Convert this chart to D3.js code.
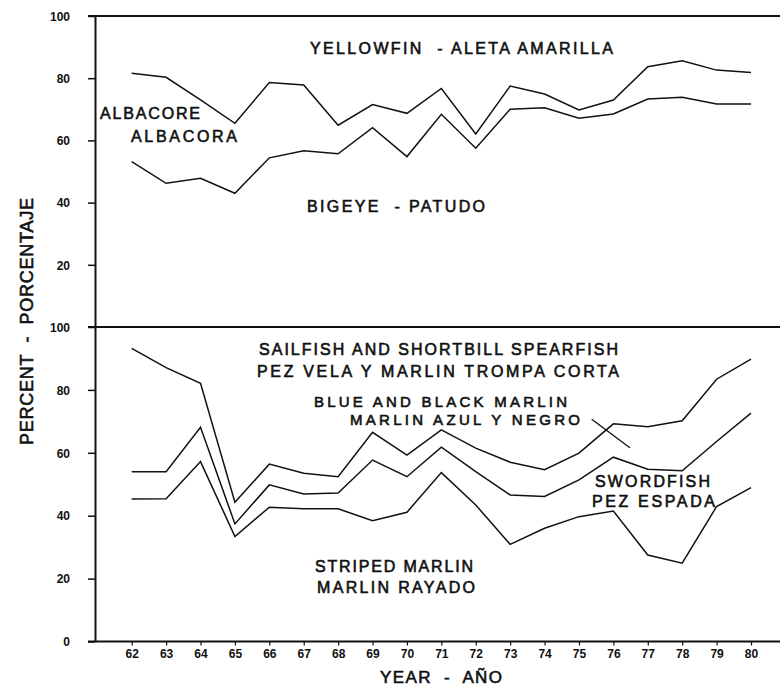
<!DOCTYPE html>
<html>
<head>
<meta charset="utf-8">
<script src="https://cdn.jsdelivr.net/npm/d3@7"></script>
<style>
  html, body { margin: 0; padding: 0; background: #fff; }
  svg { display: block; }
  text { font-family: "Liberation Sans", Arial, sans-serif; fill: #111; }
</style>
</head>
<body>
<svg id="chart" width="780" height="686"></svg>
<script>
// ---------------- DATA ----------------
const years = [62,63,64,65,66,67,68,69,70,71,72,73,74,75,76,77,78,79,80];

// Top panel (cumulative percent boundaries)
const yellowfinTop = [81.6,80.3,73.0,65.5,78.6,77.8,64.9,71.5,68.7,76.7,62.1,77.5,74.9,69.8,73.0,83.7,85.6,82.6,81.8];
const bigeyeTop    = [53.2,46.2,47.8,43.0,54.4,56.7,55.7,64.1,54.8,68.4,57.5,70.0,70.5,67.1,68.5,73.3,73.9,71.7,71.7];

// Bottom panel (cumulative percent boundaries)
const sailfishBound  = [93.2,87.1,82.1,44.3,56.4,53.5,52.4,66.5,59.3,67.3,61.5,57.0,54.6,59.9,69.2,68.3,70.2,83.4,89.8];
const blueMarlinBound= [54.0,54.0,68.1,37.4,49.8,46.9,47.2,57.7,52.4,61.8,54.0,46.6,46.1,51.4,58.6,54.8,54.3,63.6,72.6];
const swordfishBound = [45.3,45.4,57.2,33.4,42.7,42.2,42.2,38.4,41.1,53.7,43.4,30.9,36.0,39.7,41.5,27.5,24.9,42.9,48.9];

// Leader line for "MARLIN AZUL Y NEGRO" (year, percent)
const leaderYears  = [75.37, 76.48];
const leaderValues = [70.7, 61.6];

const topTicks    = [20, 40, 60, 80, 100];
const bottomTicks = [0, 20, 40, 60, 80, 100];

const topLabels = ["YELLOWFIN  - ALETA AMARILLA", "ALBACORE", "ALBACORA", "BIGEYE  - PATUDO"];
const bottomLabels = ["SAILFISH AND SHORTBILL SPEARFISH", "PEZ VELA Y MARLIN TROMPA CORTA",
                      "BLUE AND BLACK MARLIN", "MARLIN AZUL Y NEGRO",
                      "SWORDFISH", "PEZ ESPADA", "STRIPED MARLIN", "MARLIN RAYADO"];
const yTitle = "PERCENT  -  PORCENTAJE";
const xTitle = "YEAR  -  AÑO";

// ---------------- LAYOUT ----------------
const L = {
  axisX: 95, frameLeft: 88, frameRight: 780,
  topY0: 327, topY100: 16, botY0: 641.5, botY100: 327,
  x62: 131.7, x80: 751
};
// label placement: [x, baseline, width, fontSize] in pixels
const topLabelPos = [[310,54,303,16],[100,119,100,16],[131,141.7,106,16],[307,212.3,178,16]];
const bottomLabelPos = [[259,355,359,16],[257,376.7,362,16],[314,406.5,253,15],[350,424.5,230,15],
                        [595,487.3,115,16],[592,507.3,123,16],[315,572.3,158,16],[317,593.3,158,16]];

const svg = d3.select("#chart");

const x = d3.scaleLinear().domain([62, 80]).range([L.x62, L.x80]);
const yT = d3.scaleLinear().domain([0, 100]).range([L.topY0, L.topY100]);
const yB = d3.scaleLinear().domain([0, 100]).range([L.botY0, L.botY100]);

// frame lines
const frame = svg.append("g").attr("stroke", "#111").attr("stroke-width", 2).attr("fill", "none");
[L.topY100, L.topY0, L.botY0].forEach(yy => {
  frame.append("line").attr("x1", L.frameLeft).attr("x2", L.frameRight).attr("y1", yy).attr("y2", yy);
});

// left axes
function leftAxis(scale, ticks) {
  const g = svg.append("g").attr("transform", `translate(${L.axisX},0)`)
    .call(d3.axisLeft(scale).tickValues(ticks).tickSize(7).tickSizeOuter(0).tickPadding(18));
  g.select(".domain").attr("stroke", "#111").attr("stroke-width", 2);
  g.selectAll(".tick line").attr("stroke", "#111").attr("stroke-width", 1.5);
  g.selectAll(".tick text").attr("font-size", 12).attr("font-weight", "bold")
    .attr("font-family", "'DejaVu Sans', sans-serif").attr("fill", "#111").attr("dy", "0.35em");
  return g;
}
leftAxis(yT, topTicks);
leftAxis(yB, bottomTicks);

// bottom axis
const xa = svg.append("g").attr("transform", `translate(0,${L.botY0})`)
  .call(d3.axisBottom(x).tickValues(years).tickSize(4).tickPadding(4).tickFormat(d3.format("d")));
xa.select(".domain").remove();
xa.selectAll(".tick line").attr("stroke", "#111").attr("stroke-width", 1.2);
xa.selectAll(".tick text").attr("font-size", 12).attr("font-weight", "bold")
  .attr("font-family", "'DejaVu Sans', sans-serif").attr("fill", "#111");

// series lines
function drawLine(vals, yScale) {
  const line = d3.line().x((d, i) => x(years[i])).y(d => yScale(d));
  svg.append("path").datum(vals).attr("d", line)
    .attr("fill", "none").attr("stroke", "#111").attr("stroke-width", 1.5).attr("stroke-linejoin", "miter");
}
drawLine(yellowfinTop, yT);
drawLine(bigeyeTop, yT);
drawLine(sailfishBound, yB);
drawLine(blueMarlinBound, yB);
drawLine(swordfishBound, yB);

// leader line
svg.append("path")
  .datum(leaderYears.map((yr, i) => [yr, leaderValues[i]]))
  .attr("d", d3.line().x(d => x(d[0])).y(d => yB(d[1])))
  .attr("fill", "none").attr("stroke", "#111").attr("stroke-width", 1.3);

// labels (medium weight: regular glyphs with a light outline)
function drawLabels(texts, pos) {
  texts.forEach((t, i) => {
    const p = pos[i];
    svg.append("text").attr("x", p[0]).attr("y", p[1])
      .attr("font-size", p[3]).attr("font-weight", "normal")
      .attr("stroke", "#111").attr("stroke-width", 0.6)
      .attr("textLength", p[2]).attr("lengthAdjust", "spacing")
      .style("white-space", "pre")
      .text(t);
  });
}
drawLabels(topLabels, topLabelPos);
drawLabels(bottomLabels, bottomLabelPos);

// axis titles
svg.append("text").attr("transform", "translate(33,321.5) rotate(-90)")
  .attr("text-anchor", "middle").attr("font-size", 18).attr("font-weight", "normal")
  .attr("stroke", "#111").attr("stroke-width", 0.6)
  .attr("textLength", 247).attr("lengthAdjust", "spacing").style("white-space", "pre")
  .text(yTitle);
svg.append("text").attr("x", 380).attr("y", 682.5)
  .attr("font-size", 17).attr("font-weight", "normal")
  .attr("stroke", "#111").attr("stroke-width", 0.6)
  .attr("textLength", 122).attr("lengthAdjust", "spacing").style("white-space", "pre")
  .text(xTitle);
</script>
</body>
</html>
